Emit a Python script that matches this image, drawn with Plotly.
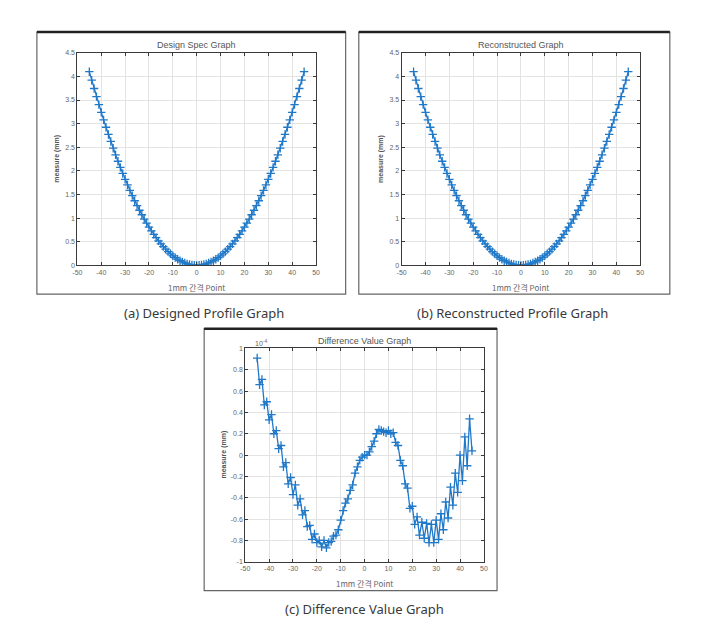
import plotly.graph_objects as go

# ---------------- data ----------------
x_points = list(range(-45, 46))

design_half = [0.000, 0.002, 0.008, 0.018, 0.032, 0.051, 0.073, 0.099, 0.130, 0.164,
               0.202, 0.245, 0.291, 0.342, 0.397, 0.455, 0.518, 0.585, 0.656, 0.731,
               0.810, 0.893, 0.980, 1.071, 1.166, 1.265, 1.368, 1.476, 1.587, 1.702,
               1.822, 1.945, 2.073, 2.204, 2.340, 2.480, 2.623, 2.771, 2.923, 3.079,
               3.239, 3.403, 3.571, 3.743, 3.919, 4.099]
design_y = design_half[:0:-1] + design_half

reconstructed_half = [0.000, 0.002, 0.008, 0.018, 0.032, 0.051, 0.073, 0.099, 0.130, 0.164,
                      0.202, 0.245, 0.291, 0.342, 0.397, 0.455, 0.518, 0.585, 0.656, 0.731,
                      0.810, 0.893, 0.980, 1.071, 1.166, 1.265, 1.368, 1.476, 1.587, 1.702,
                      1.822, 1.945, 2.073, 2.204, 2.340, 2.480, 2.623, 2.771, 2.923, 3.079,
                      3.239, 3.403, 3.571, 3.743, 3.919, 4.099]
reconstructed_y = reconstructed_half[:0:-1] + reconstructed_half

# difference values, in units of 1e-4 mm (x = -45 .. 45)
diff_y = [0.91, 0.66, 0.71, 0.47, 0.50, 0.33, 0.38, 0.20, 0.23, 0.06,
          0.09, -0.11, -0.07, -0.27, -0.21, -0.37, -0.28, -0.47, -0.41, -0.56,
          -0.52, -0.67, -0.66, -0.79, -0.74, -0.82, -0.80, -0.86, -0.80, -0.87,
          -0.82, -0.81, -0.76, -0.75, -0.70, -0.61, -0.52, -0.45, -0.41, -0.33,
          -0.28, -0.17, -0.11, -0.05, -0.02, 0.00, 0.00, 0.03, 0.08, 0.13,
          0.20, 0.24, 0.23, 0.22, 0.21, 0.23, 0.20, 0.21, 0.12, 0.09,
          -0.05, -0.10, -0.27, -0.31, -0.50, -0.48, -0.65, -0.58, -0.75, -0.63,
          -0.78, -0.64, -0.82, -0.65, -0.82, -0.61, -0.79, -0.55, -0.70, -0.44,
          -0.59, -0.30, -0.47, -0.17, -0.35, 0.00, -0.24, 0.17, -0.10, 0.34,
          0.04]

x_ticks = [-50, -40, -30, -20, -10, 0, 10, 20, 30, 40, 50]
profile_ticks = [0, 0.5, 1, 1.5, 2, 2.5, 3, 3.5, 4, 4.5]
diff_ticks = [-1, -0.8, -0.6, -0.4, -0.2, 0, 0.2, 0.4, 0.6, 0.8, 1]

titles = ["Design Spec Graph", "Reconstructed Graph", "Difference Value Graph"]
captions = ["(a) Designed Profile Graph", "(b) Reconstructed Profile Graph",
            "(c) Difference Value Graph"]
x_title = "1mm 간격 Point"
y_title = "measure (mm)"

# ---------------- layout helpers ----------------
W, H = 716, 630
def px(x):
    return x / W
def py(y):
    return 1 - y / H

LINE = "#1f78c8"
TICKFONT = dict(family="Liberation Sans, Arial, sans-serif", size=7, color="#666666")

panels = [
    # plot-area (left, right, top, bottom) in pixels
    dict(area=(73.3, 315.0, 49.3, 264.3), frame=(32.3, 345.0, 28.3, 293.3)),
    dict(area=(401.7, 643.3, 49.3, 264.3), frame=(358.3, 673.3, 28.3, 293.3)),
    dict(area=(243.3, 485.0, 348.3, 564.0), frame=(201.7, 498.3, 328.3, 593.3)),
]

fig = go.Figure()
series = [design_y, reconstructed_y, diff_y]
for i, ys in enumerate(series):
    sfx = "" if i == 0 else str(i + 1)
    fig.add_trace(go.Scatter(
        x=x_points, y=ys, mode="lines+markers",
        line=dict(color=LINE, width=1.3),
        marker=dict(symbol="cross-thin", size=6, line=dict(width=1.3, color=LINE), color=LINE),
        xaxis="x" + sfx, yaxis="y" + sfx, showlegend=False, hoverinfo="x+y"))

layout = dict(width=W, height=H, margin=dict(l=0, r=0, t=0, b=0),
              paper_bgcolor="white", plot_bgcolor="white", showlegend=False)

def fmt(v):
    return ("%g" % v)

shapes = []
annotations = []
for i, p in enumerate(panels):
    L, R, T, B = p["area"]
    sfx = "" if i == 0 else str(i + 1)
    common = dict(showline=True, linecolor="#3a3a3a", linewidth=1, mirror="ticks",
                  ticks="inside", ticklen=3, tickcolor="#3a3a3a", showgrid=True,
                  gridcolor="#e3e3e3", gridwidth=1, zeroline=False, tickfont=TICKFONT)
    layout["xaxis" + sfx] = dict(common, domain=[px(L), px(R)], range=[-50, 50],
                                 tickvals=x_ticks, ticktext=[fmt(v) for v in x_ticks],
                                 anchor="y" + sfx)
    yt = profile_ticks if i < 2 else diff_ticks
    yr = [0, 4.5] if i < 2 else [-1, 1]
    layout["yaxis" + sfx] = dict(common, domain=[py(B), py(T)], range=yr,
                                 tickvals=yt, ticktext=[fmt(v) for v in yt],
                                 anchor="x" + sfx)
    fL, fR, fT, fB = p["frame"]
    shapes.append(dict(type="rect", xref="paper", yref="paper",
                       x0=px(fL), x1=px(fR), y0=py(fB), y1=py(fT),
                       line=dict(color="#666666", width=1.2)))
    shapes.append(dict(type="line", xref="paper", yref="paper",
                       x0=px(fL), x1=px(fR), y0=py(fT), y1=py(fT),
                       line=dict(color="#222222", width=2.5)))
    cx = (L + R) / 2
    annotations.append(dict(text=titles[i], x=px(cx), y=py(T - 7.5), xref="paper", yref="paper",
                            showarrow=False, xanchor="center", yanchor="middle",
                            font=dict(family="Liberation Sans, Arial, sans-serif", size=9, color="#555555")))
    annotations.append(dict(text=x_title, x=px(cx), y=py(B + 22.5), xref="paper", yref="paper",
                            showarrow=False, xanchor="center", yanchor="middle",
                            font=dict(family="Noto Sans CJK KR, sans-serif", size=8, color="#666666")))
    annotations.append(dict(text="<b>" + y_title + "</b>", x=px(L - 21), y=py((T + B) / 2),
                            xref="paper", yref="paper", textangle=-90,
                            showarrow=False, xanchor="center", yanchor="middle",
                            font=dict(family="Liberation Sans, Arial, sans-serif", size=7, color="#555555")))

annotations.append(dict(text="10<sup>-4</sup>", x=px(251), y=py(343), xref="paper", yref="paper",
                        showarrow=False, xanchor="left", yanchor="middle",
                        font=dict(family="Liberation Sans, Arial, sans-serif", size=7, color="#666666")))

cap_pos = [(202, 312), (514, 312), (364, 612)]
for (cx, cy), txt in zip(cap_pos, captions):
    annotations.append(dict(text=txt, x=px(cx), y=py(cy), xref="paper", yref="paper",
                            showarrow=False, xanchor="center", yanchor="middle",
                            font=dict(family="Noto Sans, sans-serif", size=13, color="#3a3a3a")))

layout["shapes"] = shapes
layout["annotations"] = annotations
fig.update_layout(**layout)
fig.write_html("out.html", config={"displayModeBar": False},
               post_script="document.body.style.margin='0';document.body.style.overflow='hidden';")
